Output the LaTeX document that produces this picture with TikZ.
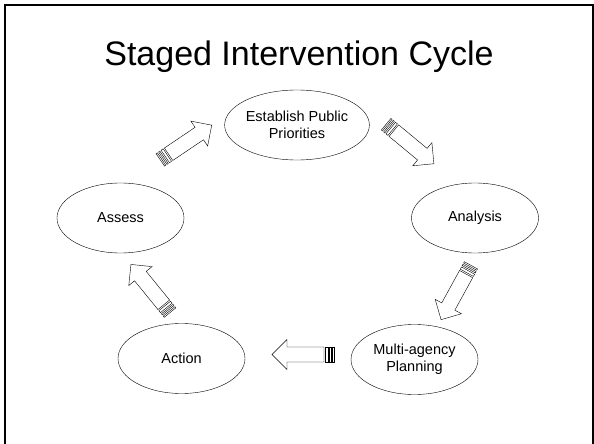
\documentclass[tikz,border=0pt]{standalone}
\usepackage{fontspec}
\setmainfont{Liberation Sans}
\usetikzlibrary{shapes.geometric}

\begin{document}
\begin{tikzpicture}[x=1pt,y=-1pt,line cap=round,line join=miter,
				stage/.style={ellipse,draw,thin,inner sep=0pt,minimum width=127pt,
					minimum height=70pt,align=center,font=\fontsize{14.5}{16.7}\selectfont},
				stripe arrow/.pic={
					\draw[thin,fill=white] (-21,-7.5) -- (16,-7.5) -- (16,-15) -- (31,0)
						-- (16,15) -- (16,7.5) -- (-21,7.5) -- cycle;
					\draw[thin,fill=white] (-31,-7.5) rectangle (-29.5,7.5);
					\draw[thin,fill=white] (-28,-7.5) rectangle (-26.5,7.5);
					\draw[thin,fill=white] (-25,-7.5) rectangle (-22.5,7.5);}]
				\useasboundingbox (0,0) rectangle (594,444);
				%frame
				\draw[line width=1.6pt] (5,450) -- (5,5) -- (593,5) -- (593,450);
				\node (title) at (299,57) {\fontsize{34}{40}\selectfont Staged Intervention Cycle};
				
				\node[stage] (establish) at (297,125) {Establish Public\\Priorities};
				\node[stage] (analysis) at (475,218) {Analysis};
				\node[stage] (planning) at (414.5,359.5) {Multi-agency\\Planning};
				\node[stage] (action) at (181.5,358.5) {Action};
				\node[stage] (assess) at (120.5,218) {Assess};
				
				\foreach \X/\A [count=\Y] in {(186,142.5)/34,(410,144)/-39.6,(456,292.5)/-118.8,
					(303,354.5)/180,(150.5,288.5)/129.1}
				{\path \X coordinate (arr\Y);
					\pic[rotate=\A] at (arr\Y) {stripe arrow};}
			\end{tikzpicture}
\end{document}
